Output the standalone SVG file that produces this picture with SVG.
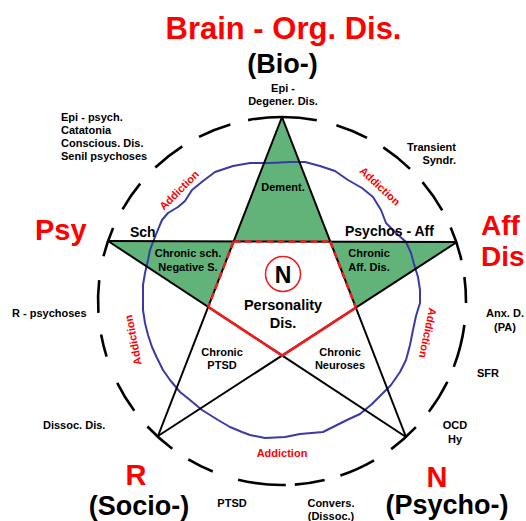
<svg xmlns="http://www.w3.org/2000/svg" width="526" height="521" viewBox="0 0 526 521">
<style>
text { font-family: "Liberation Sans", Arial, sans-serif; font-weight: bold; }
.s { font-size: 11px; fill: #000; }
.m { font-size: 14px; fill: #000; }
.big { fill: #ff0000; }
.sub { font-size: 27px; fill: #000; }
.add { font-size: 11px; fill: #ff0000; }
.c { text-anchor: middle; }
.ring { fill: none; stroke: #000; stroke-width: 2.6; stroke-linecap: butt; }
.star { stroke: #000; stroke-width: 2; fill: none; }
.pen { stroke: #ee1c1c; stroke-width: 2.6; fill: none; }
.dash { stroke-dasharray: 7 4; }
.green { fill: #62b37a; stroke: none; }
</style>
<rect x="0" y="0" width="526" height="521" fill="#fff"/>

<g id="ring">
<path class="ring" d="M248.1,120.1 A184,184 0 0 1 316.8,120.3"/>
<path class="ring" d="M336.4,125.2 A184,184 0 0 1 367.0,137.8"/>
<path class="ring" d="M383.3,147.4 A184,184 0 0 1 410.0,168.9"/>
<path class="ring" d="M422.5,182.2 A184,184 0 0 1 442.2,210.4"/>
<path class="ring" d="M450.7,227.6 A184,184 0 0 1 461.4,260.2"/>
<path class="ring" d="M464.4,277.0 A184,184 0 0 1 466.0,302.9"/>
<path class="ring" d="M464.4,325.0 A184,184 0 0 1 453.8,366.9"/>
<path class="ring" d="M447.4,381.7 A184,184 0 0 1 428.9,411.7"/>
<path class="ring" d="M415.9,427.2 A184,184 0 0 1 391.2,449.1"/>
<path class="ring" d="M374.0,460.3 A184,184 0 0 1 340.4,475.5"/>
<path class="ring" d="M324.6,480.0 A184,184 0 0 1 294.8,484.6"/>
<path class="ring" d="M285.8,485.0 A184,184 0 0 1 238.1,479.7"/>
<path class="ring" d="M212.8,471.5 A184,184 0 0 1 188.3,459.4"/>
<path class="ring" d="M172.3,448.7 A184,184 0 0 1 147.4,426.5"/>
<path class="ring" d="M134.3,410.7 A184,184 0 0 1 117.2,382.8"/>
<path class="ring" d="M106.6,356.6 A184,184 0 0 1 101.1,334.5"/>
<path class="ring" d="M98.4,312.9 A184,184 0 0 1 99.2,280.2"/>
<path class="ring" d="M103.5,256.2 A184,184 0 0 1 113.1,227.9"/>
<path class="ring" d="M122.5,209.3 A184,184 0 0 1 140.2,183.7"/>
<path class="ring" d="M155.3,167.5 A184,184 0 0 1 182.3,146.3"/>
<path class="ring" d="M199.0,136.8 A184,184 0 0 1 230.4,124.4"/>
</g>

<g id="fills">
<polygon class="green" points="282,117 233.6,241.5 330.2,241.5"/>
<polygon class="green" points="108,241 233.6,241.5 208.2,306.9"/>
<polygon class="green" points="457,242 330.2,241.5 355.9,307.6"/>
</g>

<g id="addiction-loop">
<path d="M233,166 L250,163 L270,163 L290,162 L305,162 L320,166 L335,171 L348,180 L362,188 L373,197 L381,210 L386,223 L396,233 L406,242 L411,253 L414,264 L418,277 L420,290 L420,303 L416,316 L413,330 L410,345 L406,360 L400,372 L391,385 L383,393 L372,404 L360,414 L347,420 L335,426 L323,432 L300,434 L285,437 L265,438 L250,435 L242,432 L230,427 L218,420 L202,410 L190,400 L180,392 L170,380 L163,370 L157,358 L152,347 L148,335 L145,323 L143,310 L143,298 L143,285 L145,273 L148,260 L150,250 L153,242 L157,232 L162,220 L168,213 L178,207 L185,201 L192,190 L203,181 L215,172 Z" fill="none" stroke="#3a3aa6" stroke-width="2" stroke-linejoin="round"/>
</g>

<g id="connectors">
<line class="star" x1="282" y1="117" x2="158" y2="436"/>
<line class="star" x1="282" y1="117" x2="406" y2="437"/>
<line class="star" x1="108" y1="241" x2="457" y2="242"/>
<line class="star" x1="108" y1="241" x2="406" y2="437"/>
<line class="star" x1="457" y1="242" x2="158" y2="436"/>
<line class="pen dash" x1="233.6" y1="241.5" x2="330.2" y2="241.5"/>
<line class="pen dash" x1="233.6" y1="241.5" x2="208.2" y2="306.9"/>
<line class="pen dash" x1="330.2" y1="241.5" x2="355.9" y2="307.6"/>
<polyline class="pen" points="208.2,306.9 282.3,355.7 355.9,307.6"/>
</g>

<g id="bio">
<text class="big c" x="283.5" y="39" font-size="31">Brain - Org. Dis.</text>
<text class="sub c" x="282.5" y="73">(Bio-)</text>
</g>
<g id="epi-degener"><text class="s c" x="283" y="92">Epi -</text><text class="s c" x="283" y="105">Degener. Dis.</text></g>
<g id="epi-psych">
<text class="s" x="61" y="121">Epi - psych.</text>
<text class="s" x="61" y="134">Catatonia</text>
<text class="s" x="61" y="147">Conscious. Dis.</text>
<text class="s" x="61" y="160">Senil psychoses</text>
</g>
<g id="transient"><text class="s" x="456" y="151" text-anchor="end">Transient</text><text class="s" x="456" y="164" text-anchor="end">Syndr.</text></g>
<g id="psy"><text class="big" x="35" y="240" font-size="29">Psy</text></g>
<g id="aff-dis"><text class="big" x="481" y="235" font-size="28">Aff</text><text class="big" x="481" y="266" font-size="28">Dis</text></g>
<g id="sch"><text class="m" x="130" y="237">Sch</text></g>
<g id="psychos-aff"><text class="m" x="345" y="236">Psychos - Aff</text></g>
<g id="dement"><text class="s c" x="283" y="191">Dement.</text></g>
<g id="chronic-sch"><text class="s c" x="188" y="257">Chronic sch.</text><text class="s c" x="188" y="271">Negative S.</text></g>
<g id="chronic-aff"><text class="s c" x="369" y="257">Chronic</text><text class="s c" x="369" y="271">Aff. Dis.</text></g>
<g id="personality">
<circle cx="283" cy="274" r="17.5" fill="#fff" stroke="#ee1c1c" stroke-width="1.5"/>
<text class="c" x="283" y="283" font-size="23">N</text>
<text class="c" x="283" y="310" font-size="14.5">Personality</text>
<text class="c" x="283" y="328" font-size="14.5">Dis.</text>
</g>
<g id="chronic-ptsd"><text class="s c" x="222" y="356">Chronic</text><text class="s c" x="222" y="369">PTSD</text></g>
<g id="chronic-neuroses"><text class="s c" x="340" y="356">Chronic</text><text class="s c" x="340" y="369">Neuroses</text></g>
<g id="r-psychoses"><text class="s" x="12" y="317">R - psychoses</text></g>
<g id="anx"><text class="s c" x="505" y="317">Anx. D.</text><text class="s c" x="505" y="331">(PA)</text></g>
<g id="sfr"><text class="s c" x="488" y="377">SFR</text></g>
<g id="ocd"><text class="s c" x="455" y="429">OCD</text><text class="s c" x="455" y="443">Hy</text></g>
<g id="dissoc"><text class="s" x="43" y="429">Dissoc. Dis.</text></g>
<g id="socio"><text class="big c" x="136" y="485" font-size="29">R</text><text class="sub c" x="139" y="515" font-size="26">(Socio-)</text></g>
<g id="ptsd"><text class="s c" x="232" y="507">PTSD</text></g>
<g id="psycho"><text class="big c" x="437" y="487" font-size="29">N</text><text class="sub c" x="447" y="514">(Psycho-)</text></g>
<g id="convers"><text class="s c" x="331" y="507">Convers.</text><text class="s c" x="331" y="520">(Dissoc.)</text></g>

<g id="addiction-labels">
<text class="add c" transform="translate(179,190) rotate(-45)" x="0" y="4">Addiction</text>
<text class="add c" transform="translate(380,186) rotate(43)" x="0" y="4">Addiction</text>
<text class="add c" transform="translate(133,340) rotate(-101)" x="0" y="4">Addiction</text>
<text class="add c" transform="translate(428,333) rotate(102)" x="0" y="4">Addiction</text>
<text class="add c" x="282" y="457">Addiction</text>
</g>
</svg>
